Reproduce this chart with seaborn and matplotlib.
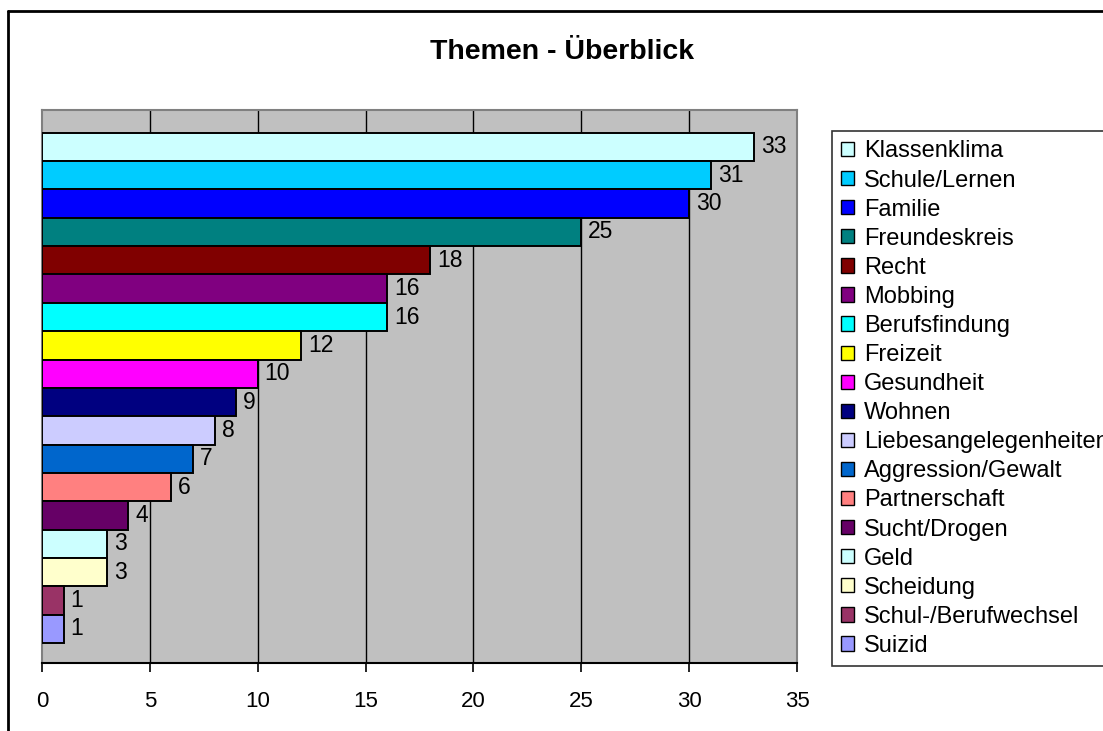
import matplotlib
matplotlib.use("Agg")
import matplotlib.pyplot as plt
import pandas as pd
import seaborn as sns
from matplotlib.lines import Line2D
from matplotlib.patches import Patch

topics = [
    "Klassenklima", "Schule/Lernen", "Familie", "Freundeskreis", "Recht",
    "Mobbing", "Berufsfindung", "Freizeit", "Gesundheit", "Wohnen",
    "Liebesangelegenheiten", "Aggression/Gewalt", "Partnerschaft",
    "Sucht/Drogen", "Geld", "Scheidung", "Schul-/Berufwechsel", "Suizid",
]
counts = [33, 31, 30, 25, 18, 16, 16, 12, 10, 9, 8, 7, 6, 4, 3, 3, 1, 1]
colors = [
    "#CCFFFF", "#00CCFF", "#0000FF", "#008080", "#800000",
    "#800080", "#00FFFF", "#FFFF00", "#FF00FF", "#000080",
    "#CCCCFF", "#0066CC", "#FF8080", "#660066", "#CCFFFF",
    "#FFFFCC", "#993366", "#9999FF",
]
x_ticks = [0, 5, 10, 15, 20, 25, 30, 35]

sns.set_style("white")
plt.rcParams["font.family"] = ["Liberation Sans", "DejaVu Sans"]
plt.rcParams["text.color"] = "black"
plt.rcParams["xtick.color"] = "black"
plt.rcParams["xtick.labelcolor"] = "black"

W, H = 1103, 731
fig = plt.figure(figsize=(W / 100, H / 100), dpi=100)
ax = fig.add_axes([42 / W, 1 - 663 / H, (797 - 42) / W, (663 - 110) / H])
ax.set_facecolor("#C0C0C0")

df = pd.DataFrame({"topic": topics, "count": counts})
sns.barplot(
    data=df, x="count", y="topic", hue="topic", palette=colors,
    saturation=1, dodge=False, width=1.0, edgecolor="black", linewidth=1.4,
    legend=False, ax=ax, zorder=3,
)

for c in ax.containers:
    ax.bar_label(c, padding=5, fontsize=16.5, color="black")

ax.set_xlim(0, 35)
ax.set_ylim(18.2, -1.3)
ax.set_xticks(x_ticks)
ax.set_xticklabels([str(t) for t in x_ticks], fontsize=16)
ax.set_yticks([])
ax.set_xlabel("")
ax.set_ylabel("")
for t in x_ticks[1:-1]:
    ax.axvline(t, color="black", lw=1.0, zorder=1)
ax.tick_params(axis="x", direction="out", length=6.5, width=1.2,
               color="black", labelcolor="black", pad=14, bottom=True)
for side in ["top", "right", "left"]:
    ax.spines[side].set_color("#808080")
    ax.spines[side].set_linewidth(1.5)
ax.spines["bottom"].set_color("black")
ax.spines["bottom"].set_linewidth(1.5)

fig.text(562 / W, 1 - 52 / H, "Themen - Überblick", ha="center", va="center",
         fontsize=20.5, fontweight="bold", color="black")

handles = [Patch(facecolor=col, edgecolor="black", lw=1.0) for col in colors]
leg = fig.legend(
    handles, topics, loc="upper left",
    bbox_to_anchor=(832 / W, 1 - 131 / H), bbox_transform=fig.transFigure,
    fontsize=17, frameon=True, fancybox=False, borderaxespad=0,
    handlelength=0.55, handleheight=0.55, handletextpad=0.4,
    labelspacing=0.30, borderpad=0.4,
)
leg.get_frame().set_edgecolor("black")
leg.get_frame().set_linewidth(1.2)
for txt in leg.get_texts():
    txt.set_color("black")

# outer chart border
fig.add_artist(Line2D([8 / W, 1], [1 - 11 / H, 1 - 11 / H], color="black", lw=2,
                      transform=fig.transFigure))
fig.add_artist(Line2D([8 / W, 8 / W], [0, 1 - 11 / H], color="black", lw=2,
                      transform=fig.transFigure))

fig.savefig("out.png", dpi=100)
